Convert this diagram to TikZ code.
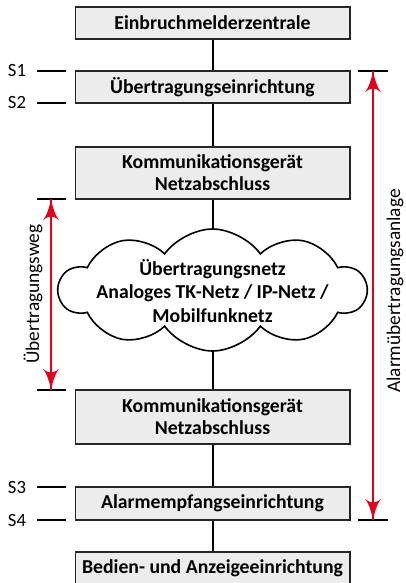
\documentclass[tikz,border=0pt]{standalone}
\usepackage{fontspec}
\setmainfont{Carlito}
\usepackage{tikz}
\usetikzlibrary{arrows}
\usetikzlibrary{decorations.markings}
\usetikzlibrary{shapes.symbols}
\definecolor{alarmred}{RGB}{226,0,26}
\definecolor{boxfill}{RGB}{236,236,236}
\tikzset{unit/.style = {draw=black!85, line width=1pt, fill=boxfill,
                        minimum width=206pt, inner sep=0pt, align=center,
                        font=\fontsize{14.8}{16.5}\selectfont\bfseries}}
\tikzset{netcloud/.style = {cloud, draw, line width=1.2pt, cloud puffs=10,
                            cloud puff arc=110,
                            minimum width=230pt, minimum height=91.5pt,
                            inner sep=0pt}}
\tikzset{cloudtext/.style = {inner sep=0pt, align=center,
                             font=\fontsize{14.8}{17.6}\selectfont\bfseries}}
\tikzset{link/.style = {line width=1.5pt}}
\tikzset{tick/.style = {line width=1.5pt}}
\tikzset{stext/.style = {inner sep=0pt, font=\fontsize{14}{16}\selectfont}}
\tikzset{sidetext/.style = {inner sep=0pt, font=\fontsize{14.5}{16}\selectfont}}
\tikzset{span/.style = {color=alarmred, line width=1.5pt,
                        decoration={markings,
                                    mark=at position 0 with {\arrowreversed[scale=2.2]{latex'}},
                                    mark=at position 1 with {\arrow[scale=2.2]{latex'}}},
                        postaction={decorate}}}

\begin{document}
\begin{tikzpicture}[x=0.75pt, y=-0.75pt]
    \useasboundingbox (0, 0) rectangle (405, 583);

    \node [unit, minimum height=24pt] (zentrale) at (212.5, 23) {Einbruchmelderzentrale};
    \node [unit, minimum height=24pt] (ueg) at (212.5, 87) {Übertragungseinrichtung};
    \node [unit, minimum height=39pt] (kom1) at (212.5, 173) {Kommunikationsgerät\\Netzabschluss};
    \node [netcloud] (netz) at (212.5, 290) {};
    \node [cloudtext] (netztext) at (212.5, 291) {Übertragungsnetz\\Analoges TK-Netz / IP-Netz /\\Mobilfunknetz};
    \node [unit, minimum height=40.5pt] (kom2) at (212.5, 417) {Kommunikationsgerät\\Netzabschluss};
    \node [unit, minimum height=24.75pt] (aee) at (212.5, 503.5) {Alarmempfangseinrichtung};
    \node [unit, minimum height=24pt] (bae) at (212.5, 568) {Bedien- und Anzeigeeinrichtung};

    \draw [link] (zentrale) -- (ueg);
    \draw [link] (ueg) -- (kom1);
    \draw [link] (kom1) -- (netz);
    \draw [link] (netz) -- (kom2);
    \draw [link] (kom2) -- (aee);
    \draw [link] (aee) -- (bae);

    \foreach \y in {71, 103, 199, 390, 487, 520} {
      \draw [tick] (37, \y) -- (66, \y);
    }
    \foreach \y in {71, 520} {
      \draw [tick] (358, \y) -- (388, \y);
    }
    \foreach \s/\y in {1/71, 2/103, 3/487, 4/520} {
      \node [stext] (s\s) at (17, \y) {S\s};
    }

    \coordinate (wegtop) at (51, 199);
    \coordinate (wegbot) at (51, 390);
    \coordinate (anltop) at (373, 71);
    \coordinate (anlbot) at (373, 520);
    \draw [span] (wegtop) -- (wegbot);
    \draw [span] (anltop) -- (anlbot);

    \node [sidetext, rotate=90] (weg) at (33, 294) {Übertragungsweg};
    \node [sidetext, rotate=90] (anlage) at (395, 291) {Alarmübertragungsanlage};
  \end{tikzpicture}
\end{document}
